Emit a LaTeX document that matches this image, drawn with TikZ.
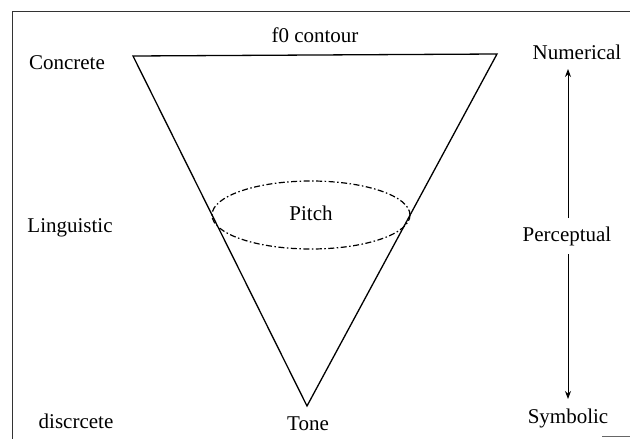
\documentclass[tikz,border=0pt]{standalone}
\usepackage{fontspec}
\setmainfont{Liberation Serif}
\usetikzlibrary{arrows.meta}
\begin{document}
\begin{tikzpicture}[x=1pt,y=-1pt,
  lbl/.style={font=\fontsize{21}{25}\selectfont, inner sep=0pt, anchor=center},
  edge/.style={line width=1.3pt, line join=miter},
  pitchring/.style={line width=1.2pt, dash pattern=on 6pt off 2.5pt on 1.5pt off 2.5pt},
  scalearrow/.style={line width=0.9pt, -{Stealth[length=8pt,width=6pt]}}]
\useasboundingbox (0,0) rectangle (630,439);
\fill[white] (0,0) rectangle (630,439);
% frame
\draw[line width=1pt, black!80] (12,439) -- (12,11) -- (630,11);
\draw[line width=1pt, black!60] (602,436) -- (630,436);
% triangle
\coordinate (tl) at (133,56);
\coordinate (tr) at (497,54);
\coordinate (bt) at (307,406);
\draw[edge] (tl) -- (tr) -- (bt) -- cycle;
% ellipse
\draw[pitchring] (311,215) ellipse [x radius=99, y radius=34];
% labels
\node[lbl] (f0) at (315,35) {f0 contour};
\node[lbl] (pitch) at (311,213) {Pitch};
\node[lbl] (tone) at (308,424) {Tone};
\node[lbl] (conc) at (67,63) {Concrete};
\node[lbl] (ling) at (70,228) {Linguistic};
\node[lbl] (disc) at (76,421) {discrcete};
\node[lbl] (num) at (577,52) {Numerical};
\node[lbl] (perc) at (567,236) {Perceptual};
\node[lbl] (sym) at (568,418) {Symbolic};
% arrows
\coordinate (upend) at (568,69);
\coordinate (dnend) at (568,399);
\draw[scalearrow] (568,218) -- (upend);
\draw[scalearrow] (568,254) -- (dnend);
\end{tikzpicture}
\end{document}
